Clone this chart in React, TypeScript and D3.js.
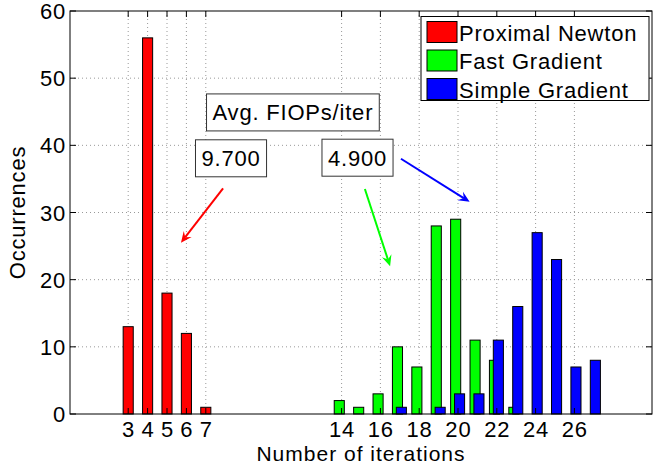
import React, { useEffect, useRef } from 'react';
import * as d3 from 'd3';

// iterations -> occurrences
const newtonIters = [3, 4, 5, 6, 7];
const newtonCounts = [13, 56, 18, 12, 1];
const fastIters = [14, 15, 16, 17, 18, 19, 20, 21, 22, 23];
const fastCounts = [2, 1, 3, 10, 7, 28, 29, 11, 8, 1];
const simpleIters = [17, 18, 19, 20, 21, 22, 23, 24, 25, 26, 27];
const simpleCounts = [1, 0, 1, 3, 3, 11, 16, 27, 23, 7, 8];

const seriesNames = ['Proximal Newton', 'Fast Gradient', 'Simple Gradient'];
const seriesColors = ['#ff0000', '#00ff00', '#0000ff'];

const xTicks = [3, 4, 5, 6, 7, 14, 16, 18, 20, 22, 24, 26];
const yTicks = [0, 10, 20, 30, 40, 50, 60];

// text boxes and arrows, in data units
const boxLabels = ['Avg. FIOPs/iter', '9.700', '4.900'];
const boxCenters = [[11.49, 44.9], [8.3, 38.07], [14.82, 38.16]];
const arrowTails = [[7.89, 33.6], [15.2, 33.5], [17.06, 38.0]];
const arrowHeads = [[5.72, 25.5], [16.5, 22.0], [20.6, 31.6]];

const FONT = '"Liberation Sans", Arial, Helvetica, sans-serif';

const App = () => {
  const ref = useRef<SVGSVGElement>(null);

  useEffect(() => {
    const svg = d3.select(ref.current);
    svg.selectAll('*').remove();

    const margin = { top: 11, right: 14, bottom: 52, left: 70 };
    const width = 666 - margin.left - margin.right;
    const height = 466 - margin.top - margin.bottom;

    const x = d3.scaleLinear().domain([0, 30]).range([0, width]);
    const y = d3.scaleLinear().domain([0, 60]).range([height, 0]);

    const g = svg.append('g').attr('transform', `translate(${margin.left},${margin.top})`);

    // grid
    g.selectAll('.gx').data(xTicks).enter().append('line')
      .attr('x1', d => x(d)).attr('x2', d => x(d))
      .attr('y1', 0).attr('y2', height)
      .attr('stroke', '#999').attr('stroke-dasharray', '1 3');
    g.selectAll('.gy').data(yTicks.slice(1, -1)).enter().append('line')
      .attr('y1', d => y(d)).attr('y2', d => y(d))
      .attr('x1', 0).attr('x2', width)
      .attr('stroke', '#999').attr('stroke-dasharray', '1 3');

    // bars
    const series = [
      { iters: newtonIters, counts: newtonCounts, offset: 0 },
      { iters: fastIters, counts: fastCounts, offset: -0.12 },
      { iters: simpleIters, counts: simpleCounts, offset: 0.08 },
    ];
    const barW = x(0.52) - x(0);
    series.forEach((s, i) => {
      g.selectAll(`.bar${i}`).data(s.iters).enter().append('rect')
        .attr('x', d => x(d + s.offset) - barW / 2)
        .attr('y', (d, j) => y(s.counts[j]))
        .attr('width', barW)
        .attr('height', (d, j) => height - y(s.counts[j]))
        .attr('fill', seriesColors[i])
        .attr('stroke', '#000')
        .attr('stroke-width', 1);
    });

    // frame and ticks
    g.append('rect').attr('width', width).attr('height', height)
      .attr('fill', 'none').attr('stroke', '#000');
    const tl = 6;
    xTicks.forEach(t => {
      g.append('line').attr('x1', x(t)).attr('x2', x(t)).attr('y1', height).attr('y2', height - tl).attr('stroke', '#000');
      g.append('line').attr('x1', x(t)).attr('x2', x(t)).attr('y1', 0).attr('y2', tl).attr('stroke', '#000');
    });
    yTicks.forEach(t => {
      g.append('line').attr('x1', 0).attr('x2', tl).attr('y1', y(t)).attr('y2', y(t)).attr('stroke', '#000');
      g.append('line').attr('x1', width).attr('x2', width - tl).attr('y1', y(t)).attr('y2', y(t)).attr('stroke', '#000');
    });

    const txt = (sel: any) => sel.attr('font-family', FONT).attr('font-size', 22)
      .attr('letter-spacing', 0.8).attr('fill', '#000');

    g.selectAll('.xt').data(xTicks).enter().append('text')
      .call(txt).attr('x', d => x(d) + 0.4).attr('y', height + 23)
      .attr('text-anchor', 'middle').text(d => d);
    g.selectAll('.yt').data(yTicks).enter().append('text')
      .call(txt).attr('x', -4).attr('y', d => y(d) + 8)
      .attr('text-anchor', 'end').text(d => d);

    g.append('text').call(txt)
      .attr('transform', `translate(${-45},${height / 2}) rotate(-90)`)
      .attr('text-anchor', 'middle').text('Occurrences');
    g.append('text').call(txt)
      .attr('font-size', 21).attr('letter-spacing', 1)
      .attr('x', width / 2).attr('y', height + 47)
      .attr('text-anchor', 'middle').text('Number of iterations');

    // legend
    const lg = g.append('g').attr('transform', `translate(${421 - margin.left},${16.5 - margin.top})`);
    lg.append('rect').attr('width', 228).attr('height', 84)
      .attr('fill', '#fff').attr('stroke', '#000');
    seriesNames.forEach((name, i) => {
      lg.append('rect').attr('x', 6).attr('y', 5 + i * 28.5)
        .attr('width', 30).attr('height', 21)
        .attr('fill', seriesColors[i]).attr('stroke', '#000');
      lg.append('text').call(txt).attr('x', 38).attr('y', 24 + i * 28.5).text(name);
    });

    // text boxes
    boxLabels.forEach((label, i) => {
      const [cx, cy] = boxCenters[i];
      const bg = g.append('g');
      const rect = bg.append('rect');
      const t = bg.append('text').call(txt)
        .attr('x', x(cx)).attr('y', y(cy) + 8)
        .attr('text-anchor', 'middle').text(label);
      const bb = (t.node() as SVGTextElement).getBBox();
      rect.attr('x', bb.x - 6).attr('y', y(cy) - 18.5)
        .attr('width', bb.width + 12).attr('height', 37)
        .attr('fill', '#fff').attr('stroke', '#333');
    });

    // arrows
    arrowTails.forEach((tail, i) => {
      const [x0, y0] = [x(tail[0]), y(tail[1])];
      const [x1, y1] = [x(arrowHeads[i][0]), y(arrowHeads[i][1])];
      const ang = Math.atan2(y1 - y0, x1 - x0);
      const ux = Math.cos(ang), uy = Math.sin(ang);
      const L = 11, W = 5, N = 7;
      const bx = x1 - ux * L, by = y1 - uy * L;
      const nx = x1 - ux * N, ny = y1 - uy * N;
      g.append('line').attr('x1', x0).attr('y1', y0).attr('x2', nx).attr('y2', ny)
        .attr('stroke', seriesColors[i]).attr('stroke-width', 2);
      g.append('path')
        .attr('d', `M${x1},${y1}L${bx - uy * W},${by + ux * W}L${nx},${ny}L${bx + uy * W},${by - ux * W}Z`)
        .attr('fill', seriesColors[i]);
    });
  }, []);

  return (
    <svg ref={ref} width={666} height={466}
      style={{ position: 'absolute', left: 0, top: 0, background: '#fff' }} />
  );
};

export default App;
